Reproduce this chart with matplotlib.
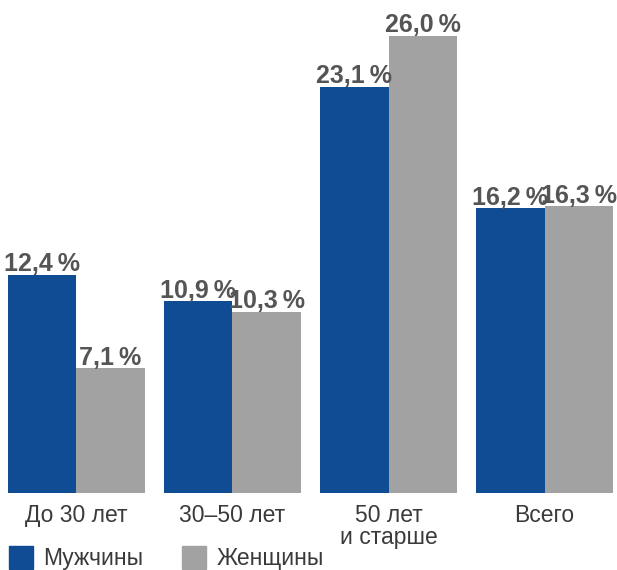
import numpy as np
import matplotlib.pyplot as plt
from matplotlib.patches import Patch

categories = ["До 30 лет", "30–50 лет", "50 лет\nи старше", "Всего"]
men = [12.4, 10.9, 23.1, 16.2]
women = [7.1, 10.3, 26.0, 16.3]
series_names = ["Мужчины", "Женщины"]

BLUE = "#0f4c94"
GRAY = "#a2a2a2"
FONT = ["Liberation Sans", "DejaVu Sans"]

fig = plt.figure(figsize=(6.17, 5.70), dpi=100)
ax = fig.add_axes([8 / 617, 77 / 570, 605 / 617, 493 / 570])

x = np.arange(len(categories))
w = 0.438
bars_m = ax.bar(x - w / 2, men, w, color=BLUE)
bars_w = ax.bar(x + w / 2, women, w, color=GRAY)

for bars, vals in ((bars_m, men), (bars_w, women)):
    for b, v in zip(bars, vals):
        ax.text(b.get_x() + b.get_width() / 2, v + 0.2,
                f"{v:.1f}\u2009%".replace(".", ","), ha="center", va="baseline",
                fontsize=18, fontweight="bold", color="#555555", family=FONT)

ax.set_xlim(-w, len(categories) - 1 + w)
ax.set_ylim(0, 28.04)
ax.set_yticks([])
ax.set_xticks(x)
ax.set_xticklabels(categories, family=FONT, fontsize=16.5, color="#3a3a3a",
                   linespacing=0.95)
ax.tick_params(axis="x", length=0, pad=8)
for s in ax.spines.values():
    s.set_visible(False)

handles = [Patch(color=BLUE), Patch(color=GRAY)]
fig.legend(handles, series_names, loc="lower left", bbox_to_anchor=(0.003, -0.012),
           ncol=2, frameon=False, prop={"family": FONT, "size": 16.5},
           handlelength=1.05, handleheight=1.15, handletextpad=0.45,
           columnspacing=1.7, borderaxespad=0.1, borderpad=0.2,
           labelcolor="#3a3a3a")

fig.savefig("out.png", dpi=100)
